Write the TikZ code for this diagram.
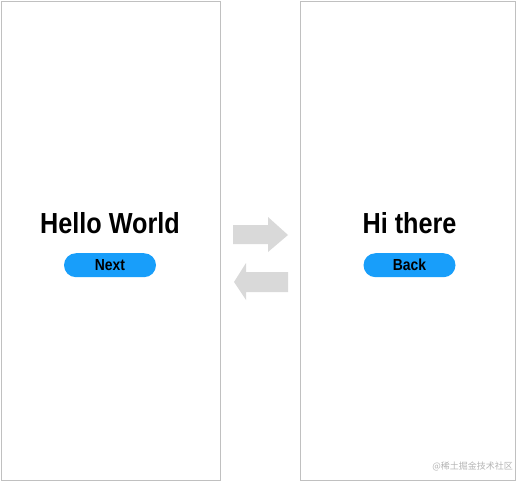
\documentclass[tikz,border=0pt]{standalone}
\usepackage{fontspec}
\newfontfamily\screenfont[FakeStretch=0.87]{Liberation Sans}
\newfontfamily\cjkfont{Noto Sans CJK SC}
\usetikzlibrary{positioning}
\definecolor{framegray}{RGB}{192,192,192}
\definecolor{btnblue}{RGB}{24,158,250}
\definecolor{arrowgray}{RGB}{217,217,217}
\definecolor{markgray}{RGB}{180,180,180}
\tikzset{
  screen/.style={draw=framegray, line width=1pt, inner sep=0, anchor=north west},
  title/.style={inner sep=0, anchor=base, font=\screenfont\bfseries\fontsize{29}{29}\selectfont},
  button/.style={fill=btnblue, rounded corners=12pt, minimum width=92pt, minimum height=24pt,
    inner sep=0, font=\screenfont\bfseries\fontsize{16}{16}\selectfont},
  flow/.style={fill=arrowgray, draw=none}
}

\begin{document}
\begin{tikzpicture}[x=1pt,y=-1pt]
      \useasboundingbox (0,0) rectangle (518,481);
      % first screen
      \begin{scope}
        \node[screen, minimum width=219.5pt, minimum height=478.5pt] (first) at (0.5,1) {};
        \node[title] (hello) at (110,233) {Hello World};
        \node[button, below=20pt of hello.base] (next) {Next};
      \end{scope}
      % second screen
      \begin{scope}[xshift=300pt]
        \node[screen, minimum width=215pt, minimum height=478.5pt] (second) at (0,1) {};
        \node[title] (hi) at (109.5,233) {Hi there};
        \node[button, below=20pt of hi.base] (back) {Back};
      \end{scope}
      % arrows in between
      \fill[flow] (233,225) -- (268,225) -- (268,217) -- (288,235)
        -- (268,252) -- (268,244) -- (233,244) -- cycle;
      \fill[flow] (288,272) -- (246,272) -- (246,263) -- (234,282)
        -- (246,300) -- (246,292) -- (288,292) -- cycle;
      \node[anchor=base east, inner sep=0, text=markgray, font=\cjkfont\fontsize{9}{9}\selectfont]
        (mark) at (513,469) {@稀土掘金技术社区};
\end{tikzpicture}
\end{document}
